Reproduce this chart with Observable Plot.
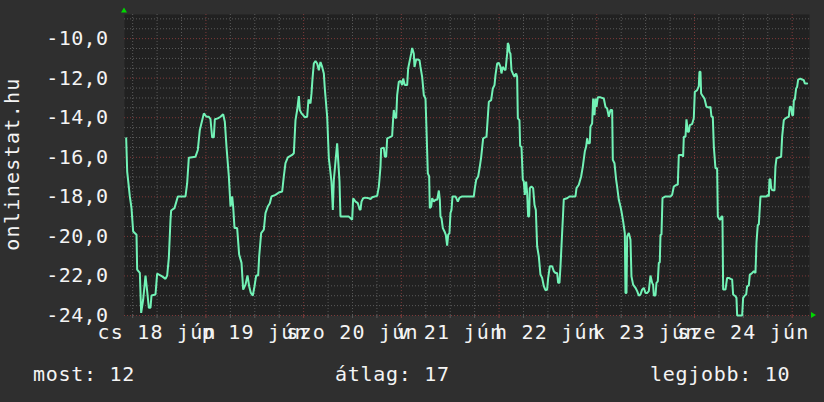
<!DOCTYPE html>
<html><head><meta charset="utf-8">
<script src="https://cdn.jsdelivr.net/npm/d3@7"></script>
<script src="https://cdn.jsdelivr.net/npm/@observablehq/plot@0.6"></script>
<style>
html,body{margin:0;padding:0;background:#2f2f2f;}
#chart svg{display:block;}
</style></head><body><div id="chart"></div>
<script>
// hours since 2020-06-18 00:00
const hours = [4.41,4.66,5.31,5.72,6.13,6.95,7.11,7.77,8.09,8.59,9.16,9.57,9.98,10.39,10.63,11.61,12.02,13.25,14.07,14.48,14.89,15.3,15.46,16.28,17.1,18.98,19.39,19.8,21.44,22.01,22.5,23.49,24.14,24.71,25.12,25.53,25.94,26.19,26.92,27.58,28.23,28.64,29.05,29.63,30.04,30.45,30.69,31.02,31.67,32.16,32.74,33.15,33.72,34.21,34.62,35.03,35.52,35.93,36.34,36.83,37.08,37.57,38.22,38.63,39.2,39.7,40.1,41.09,41.91,42.73,43.13,43.54,44.12,45.18,45.59,46.0,46.41,46.82,47.06,47.47,47.88,48.29,48.87,49.19,49.68,49.93,50.18,50.5,50.91,51.32,51.73,52.14,52.55,52.96,53.2,53.78,54.19,54.43,54.84,55.17,55.42,55.82,56.23,56.48,56.81,57.05,57.87,58.69,
59.1,59.92,60.16,60.74,61.31,61.72,61.97,62.21,62.62,63.19,64.01,64.42,64.83,66.06,66.47,66.88,67.04,67.7,67.94,68.27,68.52,69.09,69.74,69.99,70.15,70.4,70.73,70.97,71.38,71.79,72.2,72.45,72.85,73.43,73.67,74.08,74.41,74.66,75.06,75.23,75.64,76.05,76.46,76.7,77.11,77.52,77.93,78.18,78.5,78.83,78.99,79.32,79.57,79.98,80.39,80.8,81.21,81.45,81.61,81.86,82.19,82.6,82.92,83.25,83.5,83.82,84.07,84.32,84.56,85.3,85.87,86.28,86.94,88.17,89.8,90.05,90.38,90.87,91.27,91.6,92.09,92.91,93.08,93.49,94.06,94.47,94.88,95.12,
95.53,95.94,96.35,96.59,96.92,97.33,97.58,97.99,98.15,98.39,98.56,98.8,99.05,99.38,99.79,100.2,100.44,100.61,101.01,101.18,101.51,101.83,102.08,102.32,102.65,102.9,103.14,103.39,103.55,103.96,104.37,104.7,105.03,105.35,105.76,106.17,106.58,106.99,107.4,107.81,108.06,108.47,109.04,109.45,109.86,110.27,110.51,110.84,111.09,111.49,111.9,112.72,113.3,114.77,115.02,115.59,116.16,116.57,117.06,117.39,117.64,117.88,118.29,118.45,118.86,119.11,119.44,119.68,119.93,120.25,120.91,121.73,122.14,122.55,122.96,123.37,123.78,123.94,124.35,124.76,125.0,125.41,125.82,126.07,126.48,126.89,127.05,127.3,127.46,127.87,128.28,128.52,128.93,129.51,129.92,130.33,130.73,131.14,131.55,131.96,132.37,132.78,133.19,
133.6,133.84,134.01,134.42,134.66,134.99,135.24,135.48,135.65,135.89,136.14,136.87,138.1,138.51,138.92,139.58,139.9,140.15,140.97,141.21,141.38,141.79,142.03,142.36,142.61,142.85,143.42,143.83,144.08,144.65,145.06,145.22,145.47,145.63,146.04,146.45,146.94,147.52,147.93,148.17,148.5,148.75,149.15,149.56,149.73,150.14,150.38,150.63,150.87,151.04,151.61,152.02,152.43,152.84,153.25,153.49,154.07,154.31,154.48,155.3,155.71,155.95,156.36,156.69,156.93,157.34,157.59,158.0,158.57,158.98,159.23,159.55,159.8,160.21,161.03,161.68,162.01,162.26,162.42,162.66,162.83,163.07,163.65,163.89,164.14,164.88,165.28,165.53,165.94,166.35,166.76,167.17,167.41,167.74,167.99,168.23,168.4,168.64,168.97,169.21,169.46,170.03,170.44,170.85,171.1,171.67];
const temps = [-15.04,-16.72,-17.98,-18.57,-19.75,-19.92,-21.68,-21.85,-23.87,-23.19,-21.98,-22.77,-23.61,-23.61,-22.99,-22.94,-21.88,-22.02,-22.15,-21.98,-21.09,-19.16,-18.69,-18.57,-17.98,-17.98,-17.31,-16.02,-15.97,-15.63,-14.62,-13.78,-13.95,-13.95,-14.07,-14.99,-14.99,-14.08,-14.03,-13.95,-13.82,-14.2,-15.46,-16.97,-18.49,-17.98,-18.49,-19.58,-19.58,-20.92,-21.34,-22.69,-22.44,-21.97,-22.52,-22.86,-22.99,-22.52,-21.98,-21.98,-21.01,-19.83,-19.66,-18.82,-18.49,-18.32,-17.98,-17.9,-17.78,-17.73,-16.97,-16.3,-16.0,-15.88,-15.8,-14.12,-13.61,-12.91,-13.61,-13.78,-13.87,-13.98,-13.95,-13.08,-13.28,-12.77,-12.02,-11.26,-11.13,-11.26,-11.6,-11.18,-11.43,-11.76,-12.52,-13.95,-16.05,-16.47,-17.23,-18.66,-17.14,-16.22,-15.29,-16.13,-17.23,-18.99,-18.99,-18.99,
-19.0,-19.16,-18.07,-18.24,-18.32,-18.62,-18.66,-18.24,-18.07,-18.04,-18.07,-18.12,-18.02,-17.95,-17.48,-16.47,-15.55,-15.51,-15.97,-15.97,-15.04,-14.99,-14.92,-14.03,-13.61,-13.95,-14.03,-12.86,-12.18,-12.13,-12.35,-12.02,-12.35,-12.35,-11.51,-11.09,-10.76,-10.47,-10.76,-11.43,-11.06,-11.06,-11.09,-11.43,-11.93,-12.86,-13.03,-14.62,-16.81,-16.97,-18.57,-18.49,-18.07,-18.24,-18.15,-18.15,-17.68,-18.15,-18.99,-19.08,-19.58,-19.75,-19.92,-20.47,-19.92,-19.83,-18.82,-18.66,-17.98,-17.98,-18.24,-18.04,-17.98,-17.98,-17.98,-17.56,-17.14,-16.97,-16.47,-16.0,-15.04,-14.96,-14.45,-13.19,-13.11,-12.52,-12.35,-11.85,
-11.26,-11.23,-11.43,-11.76,-11.43,-11.56,-11.6,-10.76,-10.22,-10.34,-10.67,-10.76,-11.6,-11.76,-11.93,-11.76,-11.93,-14.03,-14.12,-15.43,-15.46,-17.14,-17.23,-17.9,-17.23,-17.82,-18.99,-18.99,-17.56,-17.48,-17.56,-18.4,-18.66,-20.5,-21.01,-21.93,-22.1,-22.52,-22.72,-22.69,-22.1,-21.51,-21.51,-21.76,-21.85,-21.85,-22.35,-22.35,-21.51,-19.83,-18.12,-18.07,-17.98,-17.98,-17.56,-17.39,-16.97,-16.47,-15.71,-15.46,-15.04,-15.29,-15.29,-14.45,-14.29,-13.03,-13.87,-13.03,-13.45,-12.97,-12.97,-13.03,-13.45,-13.53,-13.95,-13.61,-13.61,-16.13,-16.3,-17.14,-17.48,-18.15,-18.49,-18.74,-19.24,-19.83,-22.86,-22.86,-20.0,-19.83,-20.17,-22.02,-22.44,-22.6,-22.77,-22.99,-22.94,-22.69,-22.6,-22.86,-22.86,-22.77,-21.98,
-22.35,-22.44,-22.99,-22.99,-22.35,-22.27,-21.34,-21.31,-19.92,-19.92,-18.07,-17.98,-17.98,-17.9,-17.48,-17.39,-17.39,-15.88,-15.88,-15.97,-14.96,-14.96,-14.08,-14.71,-14.71,-14.37,-14.32,-14.03,-12.69,-12.61,-12.4,-11.68,-11.68,-12.77,-12.91,-13.03,-13.45,-13.48,-13.45,-13.95,-13.95,-15.46,-16.55,-16.55,-18.99,-19.13,-19.16,-18.99,-18.99,-22.69,-22.69,-22.1,-22.1,-22.15,-22.18,-22.94,-23.03,-23.11,-24.0,-24.0,-24.0,-23.11,-22.99,-22.94,-22.52,-22.49,-21.93,-21.88,-21.76,-21.85,-20.3,-19.41,-19.41,-17.98,-17.98,-17.98,-17.9,-17.98,-17.11,-17.11,-17.56,-17.65,-17.68,-16.47,-16.05,-16.0,-15.97,-14.96,-14.12,-14.03,-13.98,-13.95,-13.45,-13.45,-13.87,-13.87,-13.11,-13.08,-12.52,-12.44,-12.07,-12.02,-12.07,-12.1,-12.27,-12.27];

const yTicks = [-24,-22,-20,-18,-16,-14,-12,-10];
const dayLabels = ["cs 18 jún","p 19 jún","szo 20 jún","v 21 jún","h 22 jún","k 23 jún","sze 24 jún"];
const labelDays = [0,1,2,3,4,5,6];
const legendTexts = ["most: 12","átlag: 17","legjobb: 10"];
const yTitle = "onlinestat.hu";

const T0 = Date.UTC(2020, 5, 18);
const toDate = h => new Date(T0 + h * 3600000);
const data = hours.map((h, i) => ({time: toDate(h), value: temps[i]}));

const labelTimes = labelDays.map(d => toDate(d * 24 + 12));
const labelMap = new Map(labelTimes.map((t, i) => [+t, dayLabels[i]]));
const majorX = d3.range(24, 173, 24).map(toDate);
const minorX = d3.range(6, 173, 6).filter(h => h % 24 !== 0).map(toDate);
const majorY = d3.range(-24, -9, 2);
const minorY = d3.range(-24, -8.8, 0.5).filter(v => v % 2 !== 0);

const gridStyle = {strokeOpacity: 1, strokeWidth: 1, strokeDasharray: "1,2"};
const minorColor = "#5a5a5a", majorColor = "#7e3a3a";

const chart = Plot.plot({
  width: 824, height: 402,
  marginLeft: 124, marginRight: 15, marginTop: 14, marginBottom: 87,
  style: {background: "#2f2f2f", color: "#f4f4f4", fontFamily: "DejaVu Sans Mono", fontSize: "20px"},
  x: {type: "utc", domain: [toDate(4), toDate(172.25)]},
  y: {domain: [-24, -8.78]},
  marks: [
    Plot.frame({fill: "#212121", stroke: null}),
    Plot.gridY(minorY, {...gridStyle, stroke: minorColor}),
    Plot.gridX(minorX, {...gridStyle, stroke: minorColor}),
    Plot.gridY(majorY, {...gridStyle, stroke: majorColor}),
    Plot.gridX(majorX, {...gridStyle, stroke: majorColor}),
    Plot.axisX(minorX, {tickSize: 3, stroke: minorColor, tickFormat: () => "", label: null}),
    Plot.axisX(majorX, {tickSize: 3, stroke: majorColor, tickFormat: () => "", label: null}),
    Plot.line(data, {x: "time", y: "value", stroke: "#72f2b6", strokeWidth: 2, strokeLinejoin: "miter"}),
    Plot.axisY(yTicks, {tickSize: 0, tickPadding: 16, fontSize: 20, label: null,
      tickFormat: d => d.toFixed(1).replace(".", ",")}),
    Plot.axisX(labelTimes, {tickSize: 0, tickPadding: 9, fontSize: 20, label: null,
      tickFormat: d => labelMap.get(+d)})
  ]
});
document.getElementById("chart").appendChild(chart);

const svg = d3.select(chart);
svg.selectAll('g[aria-label="x-axis tick label"] text').style("letter-spacing", "1.2px");
svg.selectAll('g[aria-label="y-axis tick label"] text').style("letter-spacing", "0.4px");

// arrows (decoration)
svg.append("path").attr("d", "M121,12.5L124,7.5L127,12.5Z").attr("fill", "#00d800");
svg.append("path").attr("d", "M811,312L816,315L811,318Z").attr("fill", "#00d800");

// y title
svg.append("text").text(yTitle)
  .attr("transform", "translate(19,164) rotate(-90)")
  .attr("text-anchor", "middle").attr("fill", "#f4f4f4")
  .style("font-family", "DejaVu Sans Mono").style("font-size", "20px").style("letter-spacing", "1.3px");

// legend
const legendX = [33, 335, 650];
legendTexts.forEach((t, i) => {
  svg.append("text").text(t).attr("x", legendX[i]).attr("y", 381)
    .attr("text-anchor", "start").attr("fill", "#f4f4f4")
    .style("font-family", "DejaVu Sans Mono").style("font-size", "20px").style("letter-spacing", "0.7px");
});
</script></body></html>
